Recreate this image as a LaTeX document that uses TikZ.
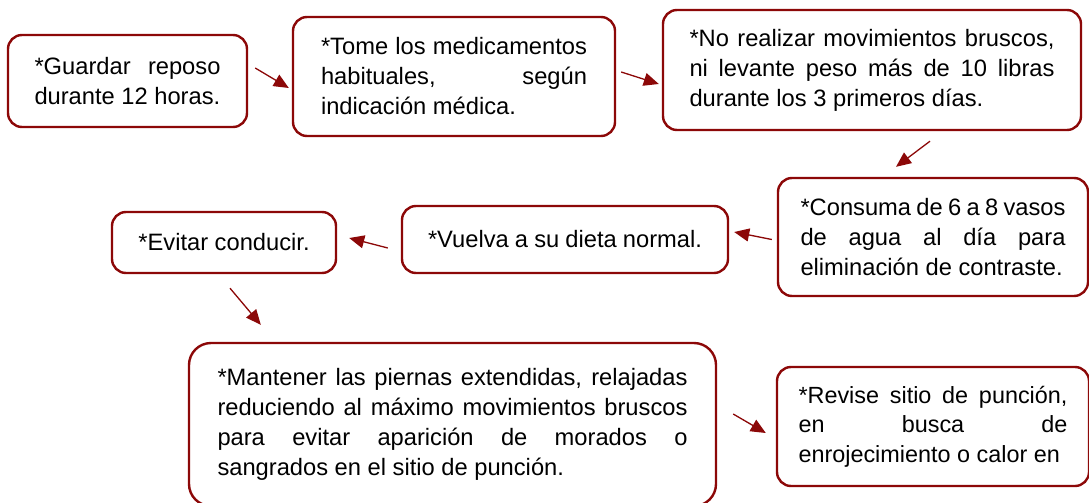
\documentclass[tikz,border=0pt]{standalone}
\usepackage{fontspec}
\setmainfont{Liberation Sans}
\usetikzlibrary{arrows.meta, positioning}

\definecolor{borde}{RGB}{140,8,8}
\hyphenpenalty=10000
\exhyphenpenalty=10000
\tolerance=9999

\begin{document}
\begin{tikzpicture}[
        x=1pt, y=-1pt,
        caja/.style={draw=borde, line width=2.4pt, rounded corners=14pt, fill=white, inner sep=0pt, align=justify, font=\fontsize{23.7}{30}\selectfont},
        flecha/.style={-{Triangle[length=15pt, width=13pt]}, line width=1.3pt, draw=borde, fill=borde}
    ]
    \clip (0,0) rectangle (1089,503);

    % --- Fila superior ---
    \node[caja, minimum width=239pt, minimum height=92pt, text width=186pt] (reposo) at (127.5,81) {*Guardar reposo\linebreak durante 12 horas.};
    \node[caja, minimum width=322pt, minimum height=119pt, text width=266pt] (medic) at (454,76.5) {*Tome los medicamentos\linebreak habituales, según\linebreak indicación médica.};
    \node[caja, minimum width=418pt, minimum height=120pt, text width=365pt] (brusco) at (872,70) {*No realizar movimientos bruscos,\linebreak ni levante peso más de 10 libras\linebreak durante los 3 primeros días.};

    % --- Fila del medio ---
    \node[caja, minimum width=310pt, minimum height=118pt, text width=265pt] (agua) at (933,237) {*Consuma de 6 a 8 vasos\linebreak de agua al día para\linebreak eliminación de contraste.};
    \node[caja, minimum width=326pt, minimum height=67pt, text width=274pt] (dieta) at (565,239.5) {*Vuelva a su dieta normal.};
    \node[caja, minimum width=224pt, minimum height=61pt, align=center] (conducir) at (224,242.5) {*Evitar conducir.};

    % --- Fila inferior ---
    \node[caja, rounded corners=22pt, minimum width=527pt, minimum height=163pt, text width=470pt] (piernas) at (452.5,424.5) {*Mantener las piernas extendidas, relajadas\linebreak reduciendo al máximo movimientos bruscos\linebreak para evitar aparición de morados o\linebreak sangrados en el sitio de punción.};
    \node[caja, minimum width=312pt, minimum height=119pt, text width=269pt, font=\fontsize{23.4}{29.5}\selectfont] (puncion) at (933,426.5) {*Revise sitio de punción,\linebreak en busca de\linebreak enrojecimiento o calor en};

    % --- Flechas ---
    \draw[flecha] ([shift={(7,-13)}]reposo.east) -- ([shift={(-3,11.5)}]medic.west);
    \draw[flecha] ([shift={(5,-4.5)}]medic.east) -- ([shift={(-3,14)}]brusco.west);
    \draw[flecha] ([shift={(58,10)}]brusco.south) -- ([shift={(-37,-10)}]agua.north);
    \draw[flecha] ([shift={(-5,2.5)}]agua.west) -- ([shift={(5,-7.5)}]dieta.east);
    \draw[flecha] ([shift={(-13,8.5)}]dieta.west) -- ([shift={(12,-4.5)}]conducir.east);
    \draw[flecha] ([shift={(6,14)}]conducir.south) -- ([shift={(73,-17)}]piernas.north west);
    \draw[flecha] ([shift={(16,-10.5)}]piernas.east) -- ([shift={(-10,6.5)}]puncion.west);

\end{tikzpicture}
\end{document}
